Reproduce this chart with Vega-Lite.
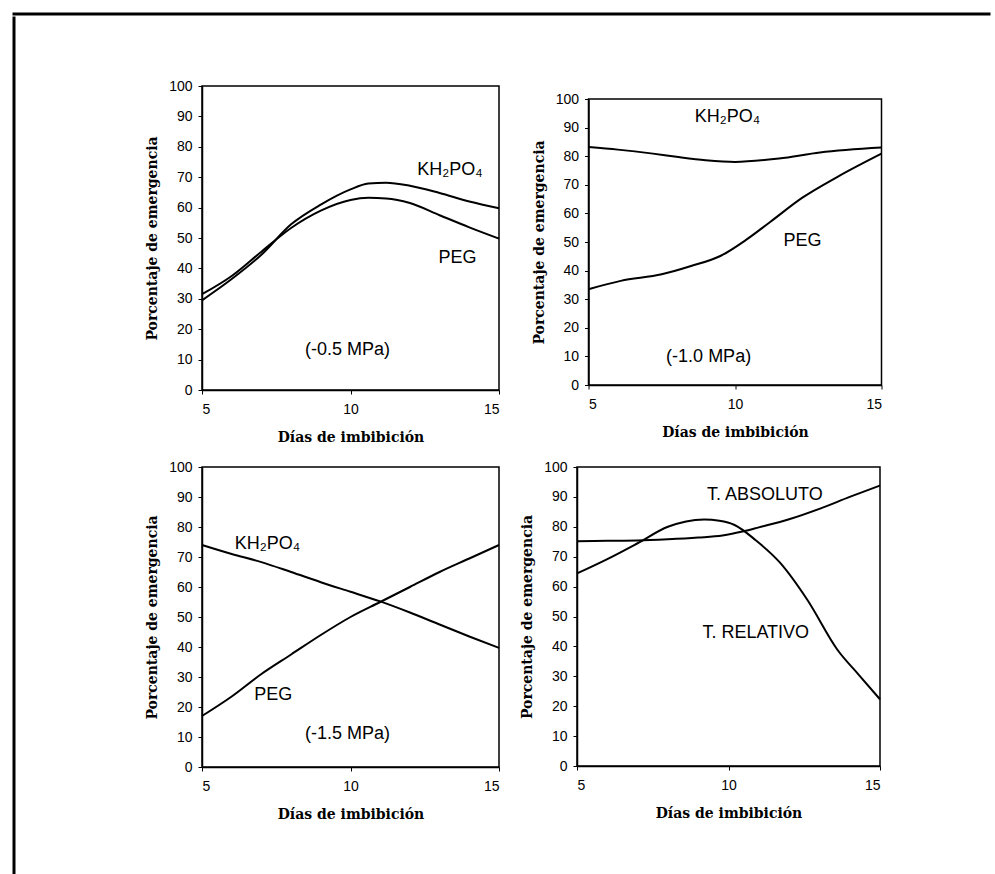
{
  "$schema": "https://vega.github.io/schema/vega-lite/v6.json",
  "background": "white",
  "padding": {"left": 12, "top": 12, "right": 0, "bottom": 0},
  "autosize": {"type": "pad"},
  "datasets": {
    "curves": [
      {"panel": 1, "serie": "KH2PO4", "dia": 5, "pct": 29.5},
      {"panel": 1, "serie": "KH2PO4", "dia": 6, "pct": 36.5},
      {"panel": 1, "serie": "KH2PO4", "dia": 7, "pct": 44.5},
      {"panel": 1, "serie": "KH2PO4", "dia": 8, "pct": 54.5},
      {"panel": 1, "serie": "KH2PO4", "dia": 9, "pct": 61},
      {"panel": 1, "serie": "KH2PO4", "dia": 10, "pct": 66},
      {"panel": 1, "serie": "KH2PO4", "dia": 10.6, "pct": 67.9},
      {"panel": 1, "serie": "KH2PO4", "dia": 11.2, "pct": 68.2},
      {"panel": 1, "serie": "KH2PO4", "dia": 12, "pct": 67.2},
      {"panel": 1, "serie": "KH2PO4", "dia": 13, "pct": 64.8},
      {"panel": 1, "serie": "KH2PO4", "dia": 14, "pct": 62},
      {"panel": 1, "serie": "KH2PO4", "dia": 15, "pct": 59.8},
      {"panel": 1, "serie": "PEG", "dia": 5, "pct": 31.5},
      {"panel": 1, "serie": "PEG", "dia": 6, "pct": 37.5},
      {"panel": 1, "serie": "PEG", "dia": 7, "pct": 45.5},
      {"panel": 1, "serie": "PEG", "dia": 8, "pct": 53.3},
      {"panel": 1, "serie": "PEG", "dia": 9, "pct": 59},
      {"panel": 1, "serie": "PEG", "dia": 10, "pct": 62.5},
      {"panel": 1, "serie": "PEG", "dia": 10.6, "pct": 63.2},
      {"panel": 1, "serie": "PEG", "dia": 11.2, "pct": 63},
      {"panel": 1, "serie": "PEG", "dia": 12, "pct": 61.5},
      {"panel": 1, "serie": "PEG", "dia": 13, "pct": 57.5},
      {"panel": 1, "serie": "PEG", "dia": 14, "pct": 53.5},
      {"panel": 1, "serie": "PEG", "dia": 15, "pct": 49.8},
      {"panel": 2, "serie": "KH2PO4", "dia": 5, "pct": 83.2},
      {"panel": 2, "serie": "KH2PO4", "dia": 6, "pct": 82.3},
      {"panel": 2, "serie": "KH2PO4", "dia": 7.2, "pct": 80.9},
      {"panel": 2, "serie": "KH2PO4", "dia": 8, "pct": 79.8},
      {"panel": 2, "serie": "KH2PO4", "dia": 9, "pct": 78.6},
      {"panel": 2, "serie": "KH2PO4", "dia": 10, "pct": 78},
      {"panel": 2, "serie": "KH2PO4", "dia": 11.5, "pct": 79.2},
      {"panel": 2, "serie": "KH2PO4", "dia": 12.9, "pct": 81.3},
      {"panel": 2, "serie": "KH2PO4", "dia": 15, "pct": 83},
      {"panel": 2, "serie": "PEG", "dia": 5, "pct": 33.5},
      {"panel": 2, "serie": "PEG", "dia": 6.1, "pct": 36.4},
      {"panel": 2, "serie": "PEG", "dia": 7.5, "pct": 38.7},
      {"panel": 2, "serie": "PEG", "dia": 8.5, "pct": 41.6},
      {"panel": 2, "serie": "PEG", "dia": 9.5, "pct": 45.1},
      {"panel": 2, "serie": "PEG", "dia": 10.4, "pct": 50.9},
      {"panel": 2, "serie": "PEG", "dia": 11.2, "pct": 57},
      {"panel": 2, "serie": "PEG", "dia": 12.3, "pct": 65.5},
      {"panel": 2, "serie": "PEG", "dia": 13.5, "pct": 72.8},
      {"panel": 2, "serie": "PEG", "dia": 15, "pct": 80.9},
      {"panel": 3, "serie": "KH2PO4", "dia": 5, "pct": 74},
      {"panel": 3, "serie": "KH2PO4", "dia": 6, "pct": 71},
      {"panel": 3, "serie": "KH2PO4", "dia": 7, "pct": 68.3},
      {"panel": 3, "serie": "KH2PO4", "dia": 8, "pct": 65},
      {"panel": 3, "serie": "KH2PO4", "dia": 9, "pct": 61.6},
      {"panel": 3, "serie": "KH2PO4", "dia": 10, "pct": 58.4},
      {"panel": 3, "serie": "KH2PO4", "dia": 11, "pct": 55.2},
      {"panel": 3, "serie": "KH2PO4", "dia": 12, "pct": 51.5},
      {"panel": 3, "serie": "KH2PO4", "dia": 13, "pct": 47.5},
      {"panel": 3, "serie": "KH2PO4", "dia": 14, "pct": 43.5},
      {"panel": 3, "serie": "KH2PO4", "dia": 15, "pct": 39.7},
      {"panel": 3, "serie": "PEG", "dia": 5, "pct": 17},
      {"panel": 3, "serie": "PEG", "dia": 6, "pct": 23.5},
      {"panel": 3, "serie": "PEG", "dia": 7, "pct": 31},
      {"panel": 3, "serie": "PEG", "dia": 8, "pct": 37.5},
      {"panel": 3, "serie": "PEG", "dia": 9, "pct": 44},
      {"panel": 3, "serie": "PEG", "dia": 10, "pct": 50},
      {"panel": 3, "serie": "PEG", "dia": 11, "pct": 55},
      {"panel": 3, "serie": "PEG", "dia": 12, "pct": 60},
      {"panel": 3, "serie": "PEG", "dia": 13, "pct": 65},
      {"panel": 3, "serie": "PEG", "dia": 14, "pct": 69.5},
      {"panel": 3, "serie": "PEG", "dia": 15, "pct": 74},
      {"panel": 4, "serie": "ABS", "dia": 5, "pct": 75.2},
      {"panel": 4, "serie": "ABS", "dia": 6, "pct": 75.3},
      {"panel": 4, "serie": "ABS", "dia": 7, "pct": 75.4},
      {"panel": 4, "serie": "ABS", "dia": 8, "pct": 75.8},
      {"panel": 4, "serie": "ABS", "dia": 9, "pct": 76.4},
      {"panel": 4, "serie": "ABS", "dia": 9.8, "pct": 77.1},
      {"panel": 4, "serie": "ABS", "dia": 10.5, "pct": 78.5},
      {"panel": 4, "serie": "ABS", "dia": 11, "pct": 79.8},
      {"panel": 4, "serie": "ABS", "dia": 12, "pct": 82.5},
      {"panel": 4, "serie": "ABS", "dia": 13, "pct": 86},
      {"panel": 4, "serie": "ABS", "dia": 14, "pct": 90},
      {"panel": 4, "serie": "ABS", "dia": 15, "pct": 93.8},
      {"panel": 4, "serie": "REL", "dia": 5, "pct": 64.4},
      {"panel": 4, "serie": "REL", "dia": 6, "pct": 69.2},
      {"panel": 4, "serie": "REL", "dia": 7, "pct": 74.5},
      {"panel": 4, "serie": "REL", "dia": 8, "pct": 80},
      {"panel": 4, "serie": "REL", "dia": 8.6, "pct": 81.8},
      {"panel": 4, "serie": "REL", "dia": 9.2, "pct": 82.4},
      {"panel": 4, "serie": "REL", "dia": 9.7, "pct": 82},
      {"panel": 4, "serie": "REL", "dia": 10.2, "pct": 80.6},
      {"panel": 4, "serie": "REL", "dia": 10.9, "pct": 75.5},
      {"panel": 4, "serie": "REL", "dia": 11.7, "pct": 68},
      {"panel": 4, "serie": "REL", "dia": 12.6, "pct": 55.6},
      {"panel": 4, "serie": "REL", "dia": 13.6, "pct": 38.8},
      {"panel": 4, "serie": "REL", "dia": 14.3, "pct": 30.5},
      {"panel": 4, "serie": "REL", "dia": 15, "pct": 22.3}
    ],
    "labels": [
      {"panel": 1, "label": "KH₂PO₄", "dia": 13.35, "pct": 72.5},
      {"panel": 1, "label": "PEG", "dia": 13.6, "pct": 43.4},
      {"panel": 1, "label": "(-0.5 MPa)", "dia": 9.9, "pct": 13.2},
      {"panel": 2, "label": "KH₂PO₄", "dia": 9.74, "pct": 93.6},
      {"panel": 2, "label": "PEG", "dia": 12.3, "pct": 50.3},
      {"panel": 2, "label": "(-1.0 MPa)", "dia": 9.1, "pct": 9.8},
      {"panel": 3, "label": "KH₂PO₄", "dia": 7.2, "pct": 74.4},
      {"panel": 3, "label": "PEG", "dia": 7.4, "pct": 23.9},
      {"panel": 3, "label": "(-1.5 MPa)", "dia": 9.9, "pct": 11.1},
      {"panel": 4, "label": "T. ABSOLUTO", "dia": 11.2, "pct": 90.7},
      {"panel": 4, "label": "T. RELATIVO", "dia": 10.9, "pct": 44.4}
    ]
  },
  "config": {
    "view": {"stroke": "black", "strokeWidth": 1.5},
    "concat": {"spacing": 0},
    "axis": {
      "grid": false,
      "domainColor": "black",
      "domainWidth": 1.5,
      "tickColor": "black",
      "tickSize": 4,
      "labelColor": "black",
      "labelFont": "Liberation Sans",
      "labelFontSize": 14,
      "labelOverlap": false,
      "titleColor": "black",
      "titleFont": "DejaVu Serif",
      "titleFontSize": 14,
      "titleFontWeight": "bold"
    },
    "axisX": {"labelPadding": 8, "titlePadding": 14},
    "axisY": {"labelPadding": 6, "titlePadding": 9}
  },
  "vconcat": [
    {
      "width": 975, "height": 0.01,
      "data": {"values": []},
      "mark": "point",
      "view": {"stroke": "black", "strokeWidth": 3}
    },
    {
      "spacing": 0,
      "hconcat": [
        {
          "width": 0.01, "height": 855,
          "data": {"values": []},
          "mark": "point",
          "view": {"stroke": "black", "strokeWidth": 3}
        },
        {"width": 128, "height": 1, "data": {"values": []}, "mark": "point", "view": {"stroke": null}},
        {
          "spacing": 0,
          "vconcat": [
            {"width": 1, "height": 60, "data": {"values": []}, "mark": "point", "view": {"stroke": null}},
            {
              "spacing": 26.5,
              "hconcat": [
                {
                  "width": 297, "height": 304,
                  "encoding": {
                    "x": {"field": "dia", "type": "quantitative", "scale": {"domain": [5, 15], "nice": false, "zero": false}, "axis": {"values": [5, 10, 15]}, "title": "Días de imbibición"},
                    "y": {"field": "pct", "type": "quantitative", "scale": {"domain": [0, 100]}, "axis": {"values": [0, 10, 20, 30, 40, 50, 60, 70, 80, 90, 100]}, "title": "Porcentaje de emergencia"}
                  },
                  "layer": [
                    {
                      "data": {"name": "curves"},
                      "transform": [{"filter": "datum.panel == 1"}],
                      "mark": {"type": "line", "color": "black", "strokeWidth": 2, "interpolate": "monotone"},
                      "encoding": {"detail": {"field": "serie"}}
                    },
                    {
                      "data": {"name": "labels"},
                      "transform": [{"filter": "datum.panel == 1"}],
                      "mark": {"type": "text", "font": "Liberation Sans", "fontSize": 18, "color": "black"},
                      "encoding": {"text": {"field": "label"}}
                    }
                  ]
                },
                {
                  "spacing": 0,
                  "vconcat": [
                    {"width": 1, "height": 5, "data": {"values": []}, "mark": "point", "view": {"stroke": null}},
                    {
                      "width": 293, "height": 286,
                      "encoding": {
                        "x": {"field": "dia", "type": "quantitative", "scale": {"domain": [5, 15], "nice": false, "zero": false}, "axis": {"values": [5, 10, 15]}, "title": "Días de imbibición"},
                        "y": {"field": "pct", "type": "quantitative", "scale": {"domain": [0, 100]}, "axis": {"values": [0, 10, 20, 30, 40, 50, 60, 70, 80, 90, 100]}, "title": "Porcentaje de emergencia"}
                      },
                      "layer": [
                        {
                          "data": {"name": "curves"},
                          "transform": [{"filter": "datum.panel == 2"}],
                          "mark": {"type": "line", "color": "black", "strokeWidth": 2, "interpolate": "monotone"},
                          "encoding": {"detail": {"field": "serie"}}
                        },
                        {
                          "data": {"name": "labels"},
                          "transform": [{"filter": "datum.panel == 2"}],
                          "mark": {"type": "text", "font": "Liberation Sans", "fontSize": 18, "color": "black"},
                          "encoding": {"text": {"field": "label"}}
                        }
                      ]
                    }
                  ]
                }
              ]
            },
            {"width": 1, "height": 14, "data": {"values": []}, "mark": "point", "view": {"stroke": null}},
            {
              "spacing": 15,
              "hconcat": [
                {
                  "width": 297, "height": 300,
                  "encoding": {
                    "x": {"field": "dia", "type": "quantitative", "scale": {"domain": [5, 15], "nice": false, "zero": false}, "axis": {"values": [5, 10, 15]}, "title": "Días de imbibición"},
                    "y": {"field": "pct", "type": "quantitative", "scale": {"domain": [0, 100]}, "axis": {"values": [0, 10, 20, 30, 40, 50, 60, 70, 80, 90, 100]}, "title": "Porcentaje de emergencia"}
                  },
                  "layer": [
                    {
                      "data": {"name": "curves"},
                      "transform": [{"filter": "datum.panel == 3"}],
                      "mark": {"type": "line", "color": "black", "strokeWidth": 2, "interpolate": "monotone"},
                      "encoding": {"detail": {"field": "serie"}}
                    },
                    {
                      "data": {"name": "labels"},
                      "transform": [{"filter": "datum.panel == 3"}],
                      "mark": {"type": "text", "font": "Liberation Sans", "fontSize": 18, "color": "black"},
                      "encoding": {"text": {"field": "label"}}
                    }
                  ]
                },
                {
                  "width": 303, "height": 299,
                  "encoding": {
                    "x": {"field": "dia", "type": "quantitative", "scale": {"domain": [5, 15], "nice": false, "zero": false}, "axis": {"values": [5, 10, 15]}, "title": "Días de imbibición"},
                    "y": {"field": "pct", "type": "quantitative", "scale": {"domain": [0, 100]}, "axis": {"values": [0, 10, 20, 30, 40, 50, 60, 70, 80, 90, 100]}, "title": "Porcentaje de emergencia"}
                  },
                  "layer": [
                    {
                      "data": {"name": "curves"},
                      "transform": [{"filter": "datum.panel == 4"}],
                      "mark": {"type": "line", "color": "black", "strokeWidth": 2, "interpolate": "monotone"},
                      "encoding": {"detail": {"field": "serie"}}
                    },
                    {
                      "data": {"name": "labels"},
                      "transform": [{"filter": "datum.panel == 4"}],
                      "mark": {"type": "text", "font": "Liberation Sans", "fontSize": 18, "color": "black"},
                      "encoding": {"text": {"field": "label"}}
                    }
                  ]
                }
              ]
            }
          ]
        }
      ]
    }
  ]
}
